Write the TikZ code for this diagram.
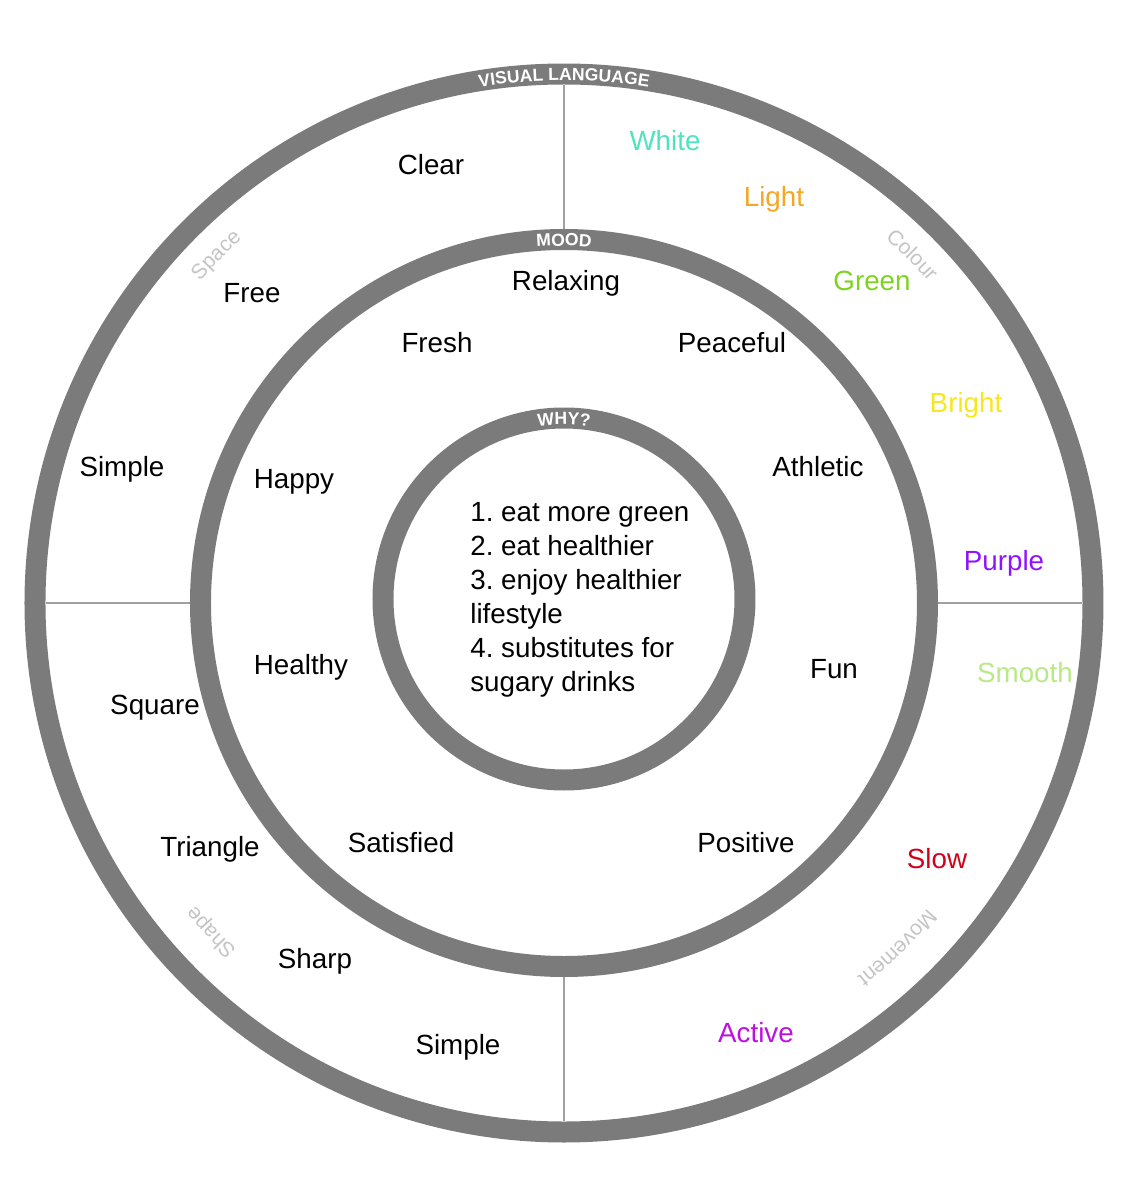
\documentclass[tikz,border=0pt]{standalone}
\usepackage{fontspec}
\setmainfont{Liberation Sans}
\usetikzlibrary{decorations.text}
\definecolor{ringgray}{RGB}{122,123,122}
\definecolor{linegray}{RGB}{160,160,160}
\definecolor{labelgray}{RGB}{196,196,196}
\definecolor{cwhite}{RGB}{80,227,194}
\definecolor{clight}{RGB}{245,166,35}
\definecolor{cgreen}{RGB}{126,211,33}
\definecolor{cbright}{RGB}{248,231,28}
\definecolor{cpurple}{RGB}{144,19,254}
\definecolor{csmooth}{RGB}{184,233,134}
\definecolor{cslow}{RGB}{208,2,27}
\definecolor{cactive}{RGB}{189,16,224}
\newcommand\ringfont{\fontsize{10}{12}\selectfont\bfseries}
\newcommand\partfont{\fontsize{12}{14}\selectfont}
\frenchspacing
\begin{document}
\begin{tikzpicture}[x=0.02cm,y=0.02cm,
    ring/.style={draw=ringgray,line width=0.42cm},
    divider/.style={draw=linegray,line width=1.1pt},
    word/.style={font=\fontsize{15.8}{19.3}\selectfont,inner sep=0pt,text height=0.72em,text depth=0pt},
    ringlabel/.style={decorate,decoration={text along path,text={|\ringfont|#1},text align=center,text color=white}},
    partlabel/.style={decorate,decoration={text along path,text={|\partfont|#1},text align=center,text color=labelgray}}]
    \useasboundingbox (-564,-595) rectangle (568,603);
    \draw[ring] (0,0) circle[radius=529];
    \draw[ring] (0,0) circle[radius=363.5];
    \draw[ring] (0,4) circle[radius=181];
    \draw[divider] (90:374) -- (90:518);
    \draw[divider] (180:374) -- (180:518);
    \draw[divider] (0:374) -- (0:518);
    \draw[divider] (270:374) -- (270:518);
    \path[ringlabel={VISUAL LANGUAGE}] (115:522.5) arc[start angle=115,end angle=65,radius=522.5];
    \path[ringlabel={MOOD}] (110:357) arc[start angle=110,end angle=70,radius=357];
    \path[ringlabel={WHY?},shift={(0,4)}] (115:174.5) arc[start angle=115,end angle=65,radius=174.5];
    \path[partlabel={Space}] (150:486) arc[start angle=150,end angle=120,radius=486];
    \path[partlabel={Colour}] (60:486) arc[start angle=60,end angle=30,radius=486];
    \path[partlabel={Shape}] (238:477) arc[start angle=238,end angle=208,radius=477];
    \path[partlabel={Movement}] (330:475) arc[start angle=330,end angle=298,radius=475];
    % space
    \node[word] (clear) at (-133,435) {Clear};
    \node[word] (free) at (-312,307) {Free};
    \node[word] (simpleA) at (-442,133) {Simple};
    % colour
    \node[word,text=cwhite] (white) at (101,459) {White};
    \node[word,text=clight] (light) at (210,403) {Light};
    \node[word,text=cgreen] (green) at (308,319) {Green};
    \node[word,text=cbright] (bright) at (402,197) {Bright};
    \node[word,text=cpurple] (purple) at (440,39) {Purple};
    % movement
    \node[word,text=csmooth] (smooth) at (461,-73) {Smooth};
    \node[word,text=cslow] (slow) at (373,-259) {Slow};
    \node[word,text=cactive] (active) at (192,-433) {Active};
    % shape
    \node[word] (square) at (-409,-105) {Square};
    \node[word] (triangle) at (-354,-247) {Triangle};
    \node[word] (sharp) at (-249,-359) {Sharp};
    \node[word] (simpleB) at (-106,-445) {Simple};
    % mood
    \node[word] (relaxing) at (2,319) {Relaxing};
    \node[word] (fresh) at (-127,257) {Fresh};
    \node[word] (peaceful) at (168,257) {Peaceful};
    \node[word] (happy) at (-270,121) {Happy};
    \node[word] (athletic) at (254,133) {Athletic};
    \node[word] (healthy) at (-263,-65) {Healthy};
    \node[word] (fun) at (270,-69) {Fun};
    \node[word] (satisfied) at (-163,-243) {Satisfied};
    \node[word] (positive) at (182,-243) {Positive};
    % why
    \node[font=\fontsize{15.8}{19.3}\selectfont,inner sep=0pt,align=left,anchor=west] (why) at (-94,3)
        {1. eat more green\\2. eat healthier\\3. enjoy healthier\\lifestyle\\4. substitutes for\\sugary drinks};
\end{tikzpicture}
\end{document}
